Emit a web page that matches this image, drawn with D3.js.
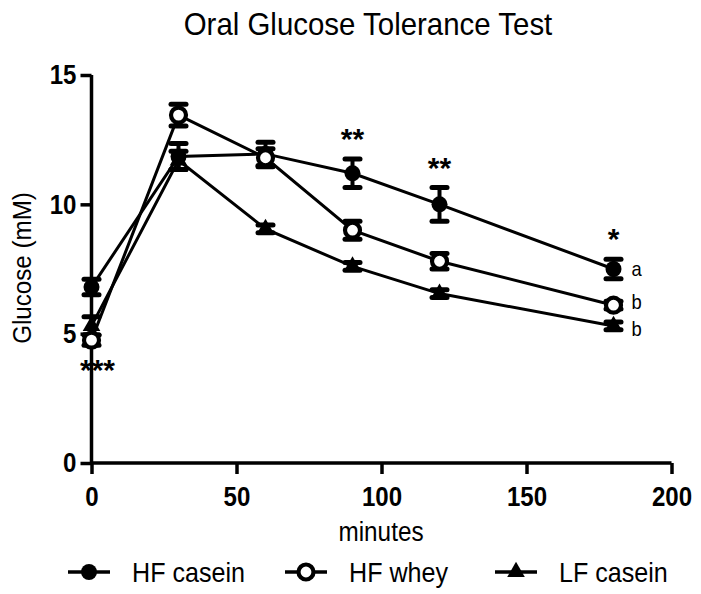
<!DOCTYPE html>
<html><head><meta charset="utf-8">
<script src="https://cdn.jsdelivr.net/npm/d3@7"></script>
<style>body{margin:0;background:#fff}svg{display:block}text{font-family:Arial,"Liberation Sans",sans-serif;fill:#000}</style>
</head><body>
<svg id="chart" width="701" height="594"></svg>
<script>
const times = [0, 30, 60, 90, 120, 180];
const seriesNames = ["HF casein", "HF whey", "LF casein"];
const hfCasein = [6.8, 11.85, 11.95, 11.2, 10.0, 7.5];
const hfCaseinErr = [0.3, 0.5, 0.45, 0.55, 0.65, 0.38];
const hfWhey = [4.75, 13.45, 11.8, 9.0, 7.8, 6.1];
const hfWheyErr = [0.2, 0.42, 0.35, 0.35, 0.3, 0.15];
const lfCasein = [5.3, 11.7, 9.05, 7.6, 6.55, 5.3];
const lfCaseinErr = [0.35, 0.35, 0.15, 0.15, 0.15, 0.15];
const sigLabels = ["***", "", "", "**", "**", "*"];
const groupLetters = ["a", "b", "b"];
const xTicks = [0, 50, 100, 150, 200];
const yTicks = [0, 5, 10, 15];

const svg = d3.select("#chart");
const x = d3.scaleLinear().domain([0, 200]).range([91.5, 671.5]);
const y = d3.scaleLinear().domain([0, 15]).range([463, 75]);

function sText(parent, tx, ty, str, size, sx, opts = {}) {
  const g = parent.append("g").attr("transform", `translate(${tx},${ty})${opts.rot ? " rotate(" + opts.rot + ")" : ""}`);
  const t = g.append("text").attr("transform", `scale(${sx},1)`)
    .attr("text-anchor", opts.anchor || "start")
    .style("font-size", size + "px").style("font-weight", opts.bold ? "bold" : "normal").text(str);
  return t;
}

// title
sText(svg, 368, 35, "Oral Glucose Tolerance Test", 32, 0.92, { anchor: "middle" });

// axes
const xAxis = svg.append("g").attr("transform", "translate(0,463)")
  .call(d3.axisBottom(x).tickValues(xTicks).tickSize(11).tickPadding(12).tickFormat(d3.format("d")));
const yAxis = svg.append("g").attr("transform", "translate(91.5,0)")
  .call(d3.axisLeft(y).tickValues(yTicks).tickSize(11).tickPadding(3).tickFormat(d3.format("d")));
[xAxis, yAxis].forEach(a => {
  a.select(".domain").attr("stroke", "#000").attr("stroke-width", 3.5);
  a.selectAll(".tick line").attr("stroke", "#000").attr("stroke-width", 3.5);
  a.selectAll(".tick text").style("font-size", "28px").style("font-weight", "bold")
    .attr("fill", "#000").style("font-family", "Arial, 'Liberation Sans', sans-serif");
});
xAxis.selectAll(".tick text").attr("transform", "scale(0.86,1)");
yAxis.selectAll(".tick text").attr("transform", "translate(-1,0) scale(0.86,1)").attr("x", -14 / 0.86);
xAxis.select(".domain").attr("d", `M${x(0)},0H${x(200)}`);
yAxis.select(".domain").attr("d", `M0,${y(0)}V${y(15)}`);

// axis labels
sText(svg, 31, 268, "Glucose (mM)", 26, 0.93, { anchor: "middle", rot: -90 });
sText(svg, 381, 541, "minutes", 27, 0.9, { anchor: "middle" });

const series = [
  { name: seriesNames[0], vals: hfCasein, err: hfCaseinErr, kind: "filled" },
  { name: seriesNames[1], vals: hfWhey, err: hfWheyErr, kind: "open" },
  { name: seriesNames[2], vals: lfCasein, err: lfCaseinErr, kind: "tri" }
];

const line = d3.line().x(d => x(d[0])).y(d => y(d[1]));
series.forEach(s => {
  svg.append("path").attr("d", line(times.map((t, i) => [t, s.vals[i]])))
    .attr("fill", "none").attr("stroke", "#000").attr("stroke-width", 3);
});

function drawMarker(g, kind, cx, cy) {
  if (kind === "filled") {
    g.append("circle").attr("cx", cx).attr("cy", cy).attr("r", 8).attr("fill", "#000");
  } else if (kind === "open") {
    g.append("circle").attr("cx", cx).attr("cy", cy).attr("r", 7.5).attr("fill", "#fff")
      .attr("stroke", "#000").attr("stroke-width", 4.2);
  } else {
    g.append("path").attr("d", d3.symbol().type(d3.symbolTriangle).size(135)())
      .attr("transform", `translate(${cx},${cy})`).attr("fill", "#000");
  }
}

const marks = svg.append("g");
series.forEach(s => {
  times.forEach((t, i) => {
    const cx = x(t), top = y(s.vals[i] + s.err[i]), bot = y(s.vals[i] - s.err[i]);
    marks.append("line").attr("x1", cx).attr("x2", cx).attr("y1", top).attr("y2", bot)
      .attr("stroke", "#000").attr("stroke-width", 4);
    [top, bot].forEach(yy => marks.append("line").attr("x1", cx - 7.5).attr("x2", cx + 7.5)
      .attr("y1", yy).attr("y2", yy).attr("stroke", "#000").attr("stroke-width", 5)
      .attr("stroke-linecap", "round"));
  });
});
series.forEach(s => {
  times.forEach((t, i) => drawMarker(marks, s.kind, x(t), y(s.vals[i])));
});

// significance stars
times.forEach((t, i) => {
  if (!sigLabels[i]) return;
  let yy;
  if (i === 0) yy = y(hfWhey[0]) + 40;
  else yy = y(hfCasein[i] + hfCaseinErr[i]) - 10;
  sText(svg, x(t) + (i === 0 ? 6 : 0), yy, sigLabels[i], 30, 1, { anchor: "middle", bold: true });
});

// group letters
const letterShift = [7, 4, 10];
series.forEach((s, k) => {
  const last = times.length - 1;
  sText(svg, x(times[last]) + 18, y(s.vals[last]) + letterShift[k], groupLetters[k], 20, 0.92);
});

// legend
const legX = [68, 285, 495];
series.forEach((s, k) => {
  const g = svg.append("g").attr("transform", `translate(${legX[k]},572)`);
  g.append("line").attr("x1", 0).attr("x2", 42).attr("y1", 0).attr("y2", 0)
    .attr("stroke", "#000").attr("stroke-width", 3.5);
  drawMarker(g, s.kind, 21, 0);
  sText(g, 64, 10, s.name, 27, 0.93);
});
</script>
</body></html>
